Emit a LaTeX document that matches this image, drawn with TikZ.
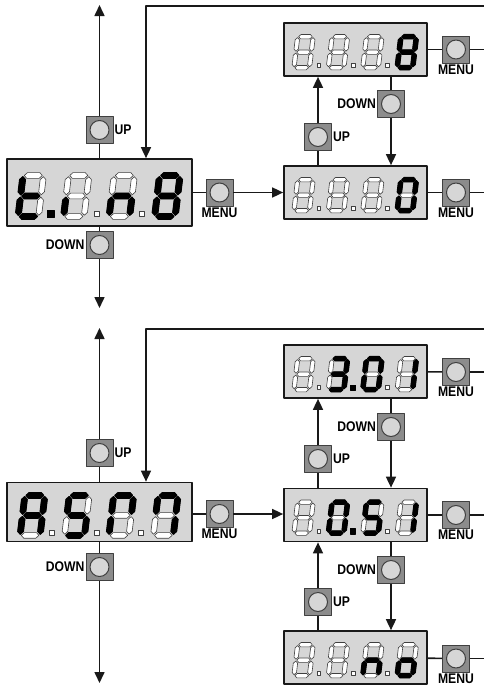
\documentclass[tikz,border=0pt]{standalone}
\usepackage{fontspec}
\usetikzlibrary{arrows.meta}
\newfontfamily\btnfont[FakeStretch=0.87]{Liberation Sans}
\definecolor{dispgrey}{gray}{0.84}
\definecolor{btngrey}{gray}{0.55}
\definecolor{btnlight}{gray}{0.84}

% segments of one digit (digit units, y upwards)
\newcommand*\sega{(0.06,2) -- (0.2,2.14) -- (0.8,2.14) -- (0.94,2) -- (0.8,1.86) -- (0.2,1.86) -- cycle}
\newcommand*\segg{(0.06,1) -- (0.2,1.14) -- (0.8,1.14) -- (0.94,1) -- (0.8,0.86) -- (0.2,0.86) -- cycle}
\newcommand*\segd{(0.06,0) -- (0.2,0.14) -- (0.8,0.14) -- (0.94,0) -- (0.8,-0.14) -- (0.2,-0.14) -- cycle}
\newcommand*\segb{(1,1.06) -- (1.14,1.2) -- (1.14,1.8) -- (1,1.94) -- (0.86,1.8) -- (0.86,1.2) -- cycle}
\newcommand*\segc{(1,0.06) -- (1.14,0.2) -- (1.14,0.8) -- (1,0.94) -- (0.86,0.8) -- (0.86,0.2) -- cycle}
\newcommand*\sege{(0,0.06) -- (0.14,0.2) -- (0.14,0.8) -- (0,0.94) -- (-0.14,0.8) -- (-0.14,0.2) -- cycle}
\newcommand*\segf{(0,1.06) -- (0.14,1.2) -- (0.14,1.8) -- (0,1.94) -- (-0.14,1.8) -- (-0.14,1.2) -- cycle}
\newcommand*\segx{}
\newcommand\segon[1]{\filldraw[seg lit] #1;}
\newcommand\segoff[1]{\filldraw[seg dark] #1;}

% four digits in display #1, unit #2pt, lit segments #3-#6, lit dot #7 (0 = none)
\newcommand\showdigits[7]{%
  \begin{scope}[shift={(#1.center)},x=#2pt,y=#2pt]
    \foreach \n/\segs in {0/{#3},1/{#4},2/{#5},3/{#6}}{
      \begin{scope}[shift={(-3.97+2.22*\n,-1.17)},xslant=0.12]
        \foreach \s in {a,b,c,d,e,f,g}{\expandafter\segoff\csname seg\s\endcsname}
        \foreach \s in \segs{\expandafter\segon\csname seg\s\endcsname}
      \end{scope}}
    \foreach \n in {0,1,2}{\filldraw[seg dark] (-2.37+2.22*\n-0.12,-1.16) rectangle ++(0.24,0.24);}
    \ifnum#7>0 \filldraw[seg lit] (-4.59+2.22*#7-0.17,-1.22) rectangle ++(0.34,0.34);\fi
  \end{scope}}

\begin{document}
\begin{tikzpicture}[x=1pt,y=-1pt,>={Triangle[length=11pt,width=10pt]},line join=round,
    flow/.style={draw=black!90,line width=1.6pt},
    disp/.style={draw=black!90,fill=dispgrey,line width=1.7pt,inner sep=0pt},
    dispbig/.style={disp,minimum width=185pt,minimum height=67pt},
    dispsmall/.style={disp,minimum width=143pt,minimum height=53pt},
    btn/.style={draw=black!75,fill=btngrey,line width=0.8pt,minimum size=27pt,inner sep=0pt,
      path picture={\draw[fill=btnlight,line width=1pt] (path picture bounding box.center) circle (9.5pt);}},
    seg lit/.style={fill=black,draw=black,line width=1.2pt},
    seg dark/.style={fill=white,draw=black!75,line width=0.6pt},
    txt/.style={font=\btnfont\bfseries\fontsize{14}{14}\selectfont,inner sep=1pt},
    upl/.style={txt,anchor=west},
    downl/.style={txt,anchor=east},
    menul/.style={txt,anchor=north}]
\useasboundingbox (0,0) rectangle (484,688);

% upper part
\node[dispbig] (tin) at (99.5,192.5) {};
\node[btn] (tinup) at (99.5,130) {};
\node[btn] (tindown) at (99.5,245) {};
\node[btn] (tinmenu) at (219.5,192.5) {};
\node[dispsmall] (tinmax) at (355.5,49.5) {};
\node[dispsmall] (tinval) at (355.5,192.5) {};
\node[btn] (maxmenu) at (456,49.5) {};
\node[btn] (valmenu) at (456,192.5) {};
\node[btn] (valup) at (318,137) {};
\node[btn] (maxdown) at (391,104) {};
\node[upl] at (tinup.east) {UP};
\node[downl] at (tindown.west) {DOWN};
\node[menul] at (tinmenu.south) {MENU};
\node[menul] at (maxmenu.south) {MENU};
\node[menul] at (valmenu.south) {MENU};
\node[upl] at (valup.east) {UP};
\node[downl] at (maxdown.west) {DOWN};
\coordinate (tintop) at (99.5,5);
\coordinate (tinbot) at (99.5,308);
\coordinate (ret1) at (484,6);
\coordinate (ret1x) at (146,6);

\draw[flow] (tin) -- (tinup);
\draw[flow,->] (tinup) -- (tintop);
\draw[flow] (tin) -- (tindown);
\draw[flow,->] (tindown) -- (tinbot);
\draw[flow,->] (ret1) -- (ret1x) -- (ret1x |- tin.north);
\draw[flow] (tin) -- (tinmenu);
\draw[flow,->] (tinmenu) -- (tinval);
\draw[flow] (tinmax) -- (maxmenu);
\draw[flow] (maxmenu) -- (maxmenu -| ret1);
\draw[flow] (tinval) -- (valmenu);
\draw[flow] (valmenu) -- (valmenu -| ret1);
\draw[flow] (tinval.north -| valup) -- (valup);
\draw[flow,->] (valup) -- (tinmax.south -| valup);
\draw[flow] (tinmax.south -| maxdown) -- (maxdown);
\draw[flow,->] (maxdown) -- (tinval.north -| maxdown);

\showdigits{tin}{20.5}{d,e,f,g}{e}{c,e,g}{a,b,c,d,e,f,g}{1}
\showdigits{tinmax}{15.5}{x}{x}{x}{a,b,c,d,e,f,g}{0}
\showdigits{tinval}{15.5}{x}{x}{x}{a,b,c,d,e,f}{0}

% lower part
\node[dispbig,minimum height=59pt] (asm) at (99.5,512) {};
\node[btn] (asmup) at (99.5,453) {};
\node[btn] (asmdown) at (99.5,567) {};
\node[btn] (asmmenu) at (219.5,514) {};
\node[dispsmall] (hi) at (355.5,371.5) {};
\node[dispsmall] (mid) at (355.5,515) {};
\node[dispsmall] (lo) at (355.5,657.5) {};
\node[btn] (himenu) at (456,372) {};
\node[btn] (midmenu) at (456,515) {};
\node[btn] (lomenu) at (456,658.5) {};
\node[btn] (midup) at (318,459) {};
\node[btn] (hidown) at (391,427) {};
\node[btn] (middown) at (391,570) {};
\node[btn] (loup) at (318,602) {};
\node[upl] at (asmup.east) {UP};
\node[downl] at (asmdown.west) {DOWN};
\node[menul] at (asmmenu.south) {MENU};
\node[menul] at (himenu.south) {MENU};
\node[menul] at (midmenu.south) {MENU};
\node[menul] at (lomenu.south) {MENU};
\node[upl] at (midup.east) {UP};
\node[downl] at (hidown.west) {DOWN};
\node[downl] at (middown.west) {DOWN};
\node[upl] at (loup.east) {UP};
\coordinate (asmtop) at (99.5,328);
\coordinate (asmbot) at (99.5,683);
\coordinate (ret2) at (484,329);
\coordinate (ret2x) at (146,329);

\draw[flow] (asm) -- (asmup);
\draw[flow,->] (asmup) -- (asmtop);
\draw[flow] (asm) -- (asmdown);
\draw[flow,->] (asmdown) -- (asmbot);
\draw[flow,->] (ret2) -- (ret2x) -- (ret2x |- asm.north);
\draw[flow] (asm.east |- asmmenu) -- (asmmenu);
\draw[flow,->] (asmmenu) -- (asmmenu -| mid.west);
\draw[flow] (hi) -- (himenu);
\draw[flow] (himenu) -- (himenu -| ret2);
\draw[flow] (mid) -- (midmenu);
\draw[flow] (midmenu) -- (midmenu -| ret2);
\draw[flow] (lo) -- (lomenu);
\draw[flow] (lomenu) -- (lomenu -| ret2);
\draw[flow] (mid.north -| midup) -- (midup);
\draw[flow,->] (midup) -- (hi.south -| midup);
\draw[flow] (hi.south -| hidown) -- (hidown);
\draw[flow,->] (hidown) -- (mid.north -| hidown);
\draw[flow] (mid.south -| middown) -- (middown);
\draw[flow,->] (middown) -- (lo.north -| middown);
\draw[flow] (lo.north -| loup) -- (loup);
\draw[flow,->] (loup) -- (mid.south -| loup);

\showdigits{asm}{20}{a,b,c,e,f,g}{a,c,d,f,g}{a,b,e,f}{a,b,c,f}{0}
\showdigits{hi}{15.5}{x}{a,b,c,d,g}{a,b,c,d,e,f}{b,c}{2}
\showdigits{mid}{15.5}{x}{a,b,c,d,e,f}{a,c,d,f,g}{b,c}{2}
\showdigits{lo}{15.5}{x}{x}{c,e,g}{c,d,e,g}{0}
\end{tikzpicture}
\end{document}
